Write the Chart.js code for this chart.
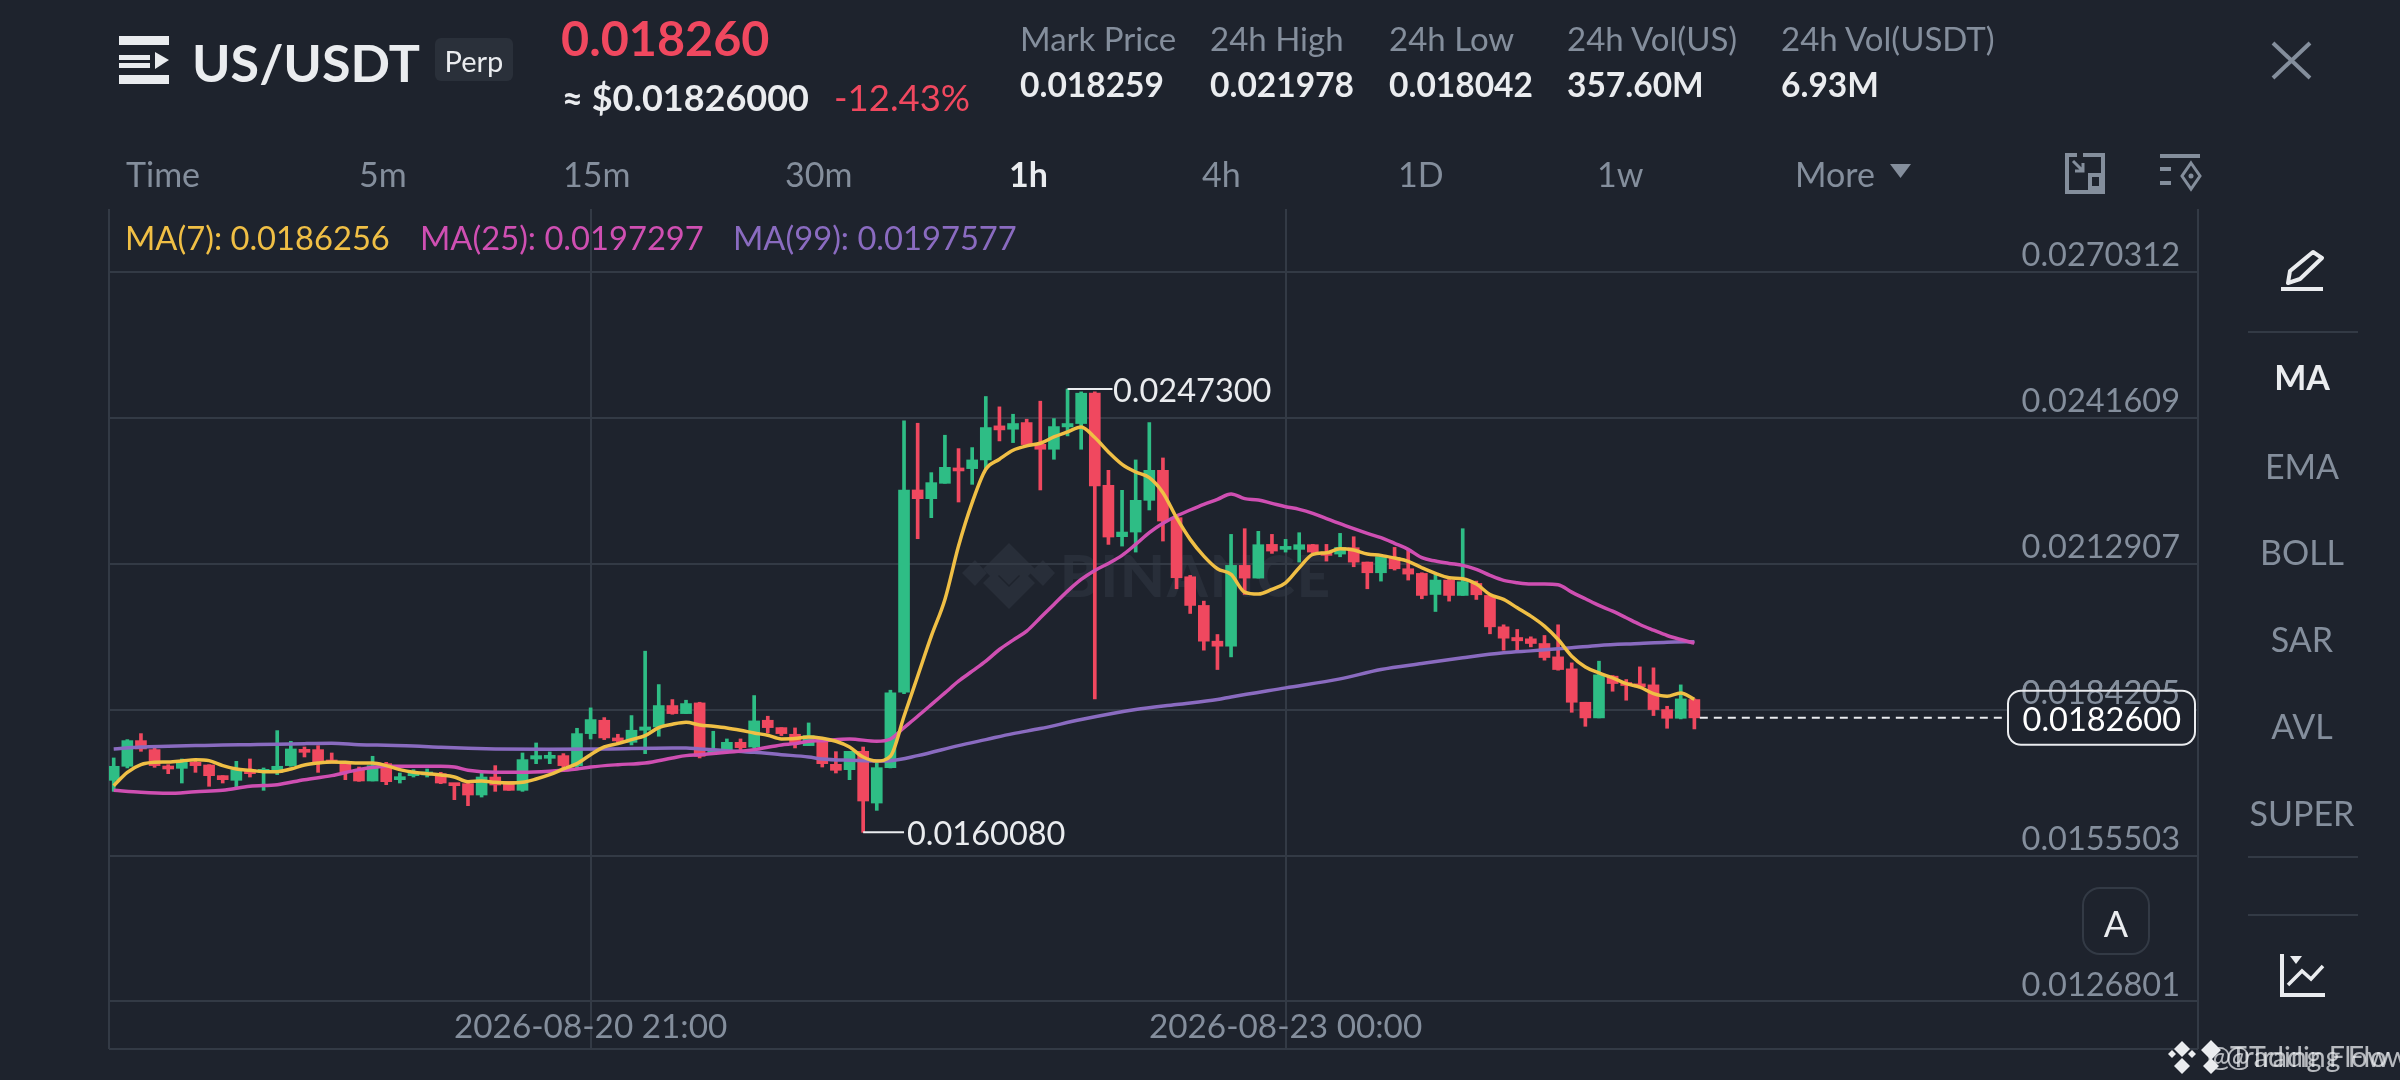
<!DOCTYPE html>
<html>
<head>
<meta charset="utf-8">
<title>US/USDT Perp</title>
<script src="https://cdn.jsdelivr.net/npm/chart.js@4/dist/chart.umd.min.js"></script>
<style>
  html, body { margin: 0; padding: 0; background: #1e232d; }
  #page { position: relative; width: 2400px; height: 1080px; overflow: hidden; background: #1e232d; font-family: Lato, sans-serif; }
  #chart { position: absolute; left: 0; top: 0; }
  .t { position: absolute; white-space: nowrap; transform: translateY(-50%); line-height: 1; }
  .c { transform: translate(-50%, -50%); }
  .label { font-size: 33px; color: #848e9c; }
  .value { font-size: 33.500px; color: #eaecef; font-weight: 700; }
  .tab { font-size: 34px; color: #848e9c; }
  .side { font-size: 34px; color: #848e9c; }
  .ma { font-size: 32.700px; }
  .rule { position: absolute; left: 2248px; width: 110px; height: 2px; background: #333a45; }
  svg { position: absolute; overflow: visible; }
</style>
</head>
<body>
<div id="page">
  <svg style="left:0;top:0" width="2400" height="1080" fill="none">
    <!-- binance mark, sits behind the candles -->
    <g fill="#282e39">
      <path d="M1009 543l26 26-11 11-15-15-15 15-11-11z"/>
      <path d="M1009 605l-26-26 11-11 15 15 15-15 11 11z" transform="translate(0 4)"/>
      <path d="M975 560l12 13-12 13-13-13z"/>
      <path d="M1043 560l12 13-12 13-13-13z"/>
      <path d="M1009 561l12 12-12 12-12-12z"/>
    </g>
  </svg>
  <div class="t" style="left:1060px;top:575px;font-size:58px;font-weight:900;color:#282e39;letter-spacing:2px">BINANCE</div>

  <canvas id="chart" width="2400" height="1080"></canvas>

  <svg style="left:0;top:0" width="2400" height="1080" fill="none">
    <!-- menu -->
    <path d="M119 36h50v9h-50zM119 75h50v9h-50zM119 55h31v5h-31zM119 63h31v5h-31z" fill="#eaecef"/>
    <path d="M155 52l14 8-14 9z" fill="#eaecef"/>
    <!-- close -->
    <path d="M2273 43l37 35M2310 43l-37 35" stroke="#848e9c" stroke-width="4"/>
    <!-- more arrow -->
    <path d="M1890 164h21l-10.500 14z" fill="#848e9c"/>
    <!-- layout icons -->
    <path d="M2083 155h20v37h-36v-37h10" stroke="#848e9c" stroke-width="4"/>
    <path d="M2073 161l10 10M2083 163v8h-8" stroke="#848e9c" stroke-width="3"/>
    <rect x="2090" y="175" width="11" height="13" stroke="#848e9c" stroke-width="4"/>
    <path d="M2160 156h40M2160 169h11M2160 183h11" stroke="#848e9c" stroke-width="4"/>
    <path d="M2191 163l9 13-9 13-9-13z" stroke="#848e9c" stroke-width="3"/>
    <circle cx="2191" cy="176" r="2.500" fill="#848e9c"/>
    <!-- pen -->
    <path d="M2313 252l9 6-22 21-12 4 2-12z" stroke="#eaecef" stroke-width="4" stroke-linejoin="round"/>
    <path d="M2281 289h42" stroke="#eaecef" stroke-width="4"/>
    <!-- indicators chart -->
    <path d="M2282 954v41h43" stroke="#eaecef" stroke-width="4"/>
    <path d="M2288 985l14-14 9 8 12-13" stroke="#eaecef" stroke-width="3.500"/>
    <path d="M2290 956h12l-6 8z" fill="#eaecef"/>
    <!-- footer marks -->
    <g fill="#eaecef">
      <path d="M2182 1041l8 8-8 8-8-8z M2182 1058l8 8-8 8-8-8z M2172 1050l4 4-4 4-4-4z M2192 1050l4 4-4 4-4-4z"/>
      <path d="M2211 1040l10 10-10 10-10-10z M2211 1058l8 8-8 8-8-8z"/>
    </g>
  </svg>

  <div class="t" style="left:192px;top:62px;font-size:52px;font-weight:700;color:#eaecef">US/USDT</div>
  <div style="position:absolute;left:435px;top:38px;width:78px;height:43px;border-radius:6px;background:#2a303a"></div>
  <div class="t c" style="left:474px;top:60px;font-size:29px;color:#eaecef">Perp</div>
  <div class="t" style="left:561px;top:37px;font-size:48.500px;font-weight:700;color:#f0485f">0.018260</div>
  <div class="t" style="left:562px;top:97px;font-size:36px;font-weight:700;color:#eaecef">≈ $0.01826000</div>
  <div class="t" style="left:834px;top:97px;font-size:36.500px;color:#f0485f">-12.43%</div>

  <div class="t label" style="left:1020px;top:38px">Mark Price</div>
  <div class="t value" style="left:1020px;top:85px">0.018259</div>
  <div class="t label" style="left:1210px;top:38px">24h High</div>
  <div class="t value" style="left:1210px;top:85px">0.021978</div>
  <div class="t label" style="left:1389px;top:38px">24h Low</div>
  <div class="t value" style="left:1389px;top:85px">0.018042</div>
  <div class="t label" style="left:1567px;top:38px">24h Vol(US)</div>
  <div class="t value" style="left:1567px;top:85px">357.60M</div>
  <div class="t label" style="left:1781px;top:38px">24h Vol(USDT)</div>
  <div class="t value" style="left:1781px;top:85px">6.93M</div>

  <div class="t tab" style="left:126px;top:174px">Time</div>
  <div class="t tab" style="left:359px;top:174px">5m</div>
  <div class="t tab" style="left:563px;top:174px">15m</div>
  <div class="t tab" style="left:785px;top:174px">30m</div>
  <div class="t tab" style="left:1009px;top:174px;color:#eaecef;font-weight:700">1h</div>
  <div class="t tab" style="left:1202px;top:174px">4h</div>
  <div class="t tab" style="left:1398px;top:174px">1D</div>
  <div class="t tab" style="left:1597px;top:174px">1w</div>
  <div class="t tab" style="left:1795px;top:174px">More</div>

  <div class="t ma" style="left:125px;top:238px;color:#f0bf45">MA(7): 0.0186256</div>
  <div class="t ma" style="left:420px;top:238px;color:#cf4fb2">MA(25): 0.0197297</div>
  <div class="t ma" style="left:733px;top:238px;color:#8a6bc0">MA(99): 0.0197577</div>

  <div class="rule" style="top:331px"></div>
  <div class="t c side" style="left:2302px;top:377px;color:#eaecef;font-weight:700">MA</div>
  <div class="t c side" style="left:2302px;top:466px">EMA</div>
  <div class="t c side" style="left:2302px;top:552px">BOLL</div>
  <div class="t c side" style="left:2302px;top:639px">SAR</div>
  <div class="t c side" style="left:2302px;top:726px">AVL</div>
  <div class="t c side" style="left:2302px;top:813px">SUPER</div>
  <div class="rule" style="top:856px"></div>
  <div class="rule" style="top:914px"></div>

  <div style="position:absolute;left:2082px;top:887px;width:64px;height:64px;border:2px solid #333a45;border-radius:18px"></div>
  <div class="t c" style="left:2116px;top:923px;font-size:36px;color:#eaecef">A</div>

  <div class="t" style="left:2226px;top:1056px;font-size:28.500px;color:#eaecef;opacity:.75">@Trading Flow</div>
  <div class="t" style="left:2207px;top:1056px;font-size:28.500px;color:#eaecef;opacity:.75">@Trading Flow</div>
</div>

<script>
const openPrices = [
  0.017031, 0.017307, 0.017812, 0.017635, 0.017307, 0.017267, 0.017385, 0.017333, 0.017123, 0.017031,
  0.017241, 0.017188, 0.017188, 0.017320, 0.017635, 0.017635, 0.017412, 0.017359, 0.017241, 0.017018,
  0.017359, 0.017044, 0.017123, 0.017136, 0.017162, 0.016965, 0.016965, 0.016742, 0.017096, 0.017011,
  0.016834, 0.017451, 0.017464, 0.017517, 0.017320, 0.017950, 0.018213, 0.017865, 0.017779, 0.018016,
  0.018081, 0.018502, 0.018344, 0.018554, 0.017556, 0.017622, 0.017779, 0.017687, 0.018213, 0.018068,
  0.017937, 0.017714, 0.017806, 0.017346, 0.017241, 0.017602, 0.016584, 0.017280, 0.018764, 0.022744,
  0.022573, 0.022875, 0.023177, 0.023164, 0.023335, 0.024005, 0.023939, 0.024070, 0.023643, 0.023545,
  0.023985, 0.024051, 0.024648, 0.022836, 0.021825, 0.021916, 0.022540, 0.023131, 0.022199, 0.021036,
  0.020472, 0.019769, 0.019670, 0.021260, 0.021010, 0.021673, 0.021575, 0.021575, 0.021667, 0.021522,
  0.021483, 0.021608, 0.021325, 0.021115, 0.021417, 0.021194, 0.021102, 0.020688, 0.020971, 0.020669,
  0.020905, 0.020669, 0.020051, 0.019841, 0.019815, 0.019723, 0.019460, 0.019224, 0.018567, 0.018259,
  0.019080, 0.018948, 0.018915, 0.018909, 0.018423, 0.018252, 0.018620
];
const closePrices = [
  0.017307, 0.017812, 0.017648, 0.017320, 0.017254, 0.017425, 0.017320, 0.017123, 0.017044, 0.017241,
  0.017162, 0.017228, 0.017307, 0.017648, 0.017582, 0.017398, 0.017372, 0.017188, 0.017018, 0.017320,
  0.017004, 0.017096, 0.017188, 0.017188, 0.016978, 0.016926, 0.016742, 0.017096, 0.016939, 0.016834,
  0.017438, 0.017517, 0.017517, 0.017320, 0.017950, 0.018226, 0.017865, 0.017806, 0.018016, 0.018081,
  0.018502, 0.018344, 0.018541, 0.017504, 0.017635, 0.017779, 0.017674, 0.018200, 0.018068, 0.017950,
  0.017753, 0.017911, 0.017359, 0.017228, 0.017602, 0.016624, 0.017280, 0.018751, 0.022744, 0.022573,
  0.022888, 0.023190, 0.023118, 0.023335, 0.023972, 0.023926, 0.024051, 0.023637, 0.023545, 0.023991,
  0.024051, 0.024648, 0.022823, 0.021818, 0.021916, 0.022540, 0.023131, 0.022133, 0.021017, 0.020472,
  0.019769, 0.019670, 0.021260, 0.021010, 0.021667, 0.021542, 0.021614, 0.021667, 0.021522, 0.021457,
  0.021614, 0.021325, 0.021115, 0.021430, 0.021194, 0.021089, 0.020669, 0.020971, 0.020669, 0.020938,
  0.020682, 0.020051, 0.019828, 0.019776, 0.019723, 0.019447, 0.019211, 0.018567, 0.018259, 0.019106,
  0.018935, 0.018896, 0.018870, 0.018423, 0.018252, 0.018633, 0.018260
];
const highPrices = [
  0.017471, 0.017832, 0.017950, 0.017714, 0.017339, 0.017451, 0.017451, 0.017339, 0.017123, 0.017405,
  0.017451, 0.017274, 0.018009, 0.017799, 0.017687, 0.017714, 0.017569, 0.017385, 0.017293, 0.017504,
  0.017385, 0.017175, 0.017241, 0.017254, 0.017188, 0.016965, 0.016978, 0.017188, 0.017320, 0.017011,
  0.017569, 0.017766, 0.017589, 0.017556, 0.018055, 0.018456, 0.018265, 0.017937, 0.018305, 0.019572,
  0.018915, 0.018620, 0.018607, 0.018567, 0.017996, 0.017845, 0.017845, 0.018699, 0.018292, 0.018068,
  0.018062, 0.018160, 0.017832, 0.017595, 0.017602, 0.017687, 0.017372, 0.018804, 0.024103, 0.024057,
  0.023085, 0.023821, 0.023558, 0.023578, 0.024583, 0.024379, 0.024234, 0.024136, 0.024491, 0.024149,
  0.024730, 0.024674, 0.024674, 0.023131, 0.022737, 0.023335, 0.024070, 0.023374, 0.022232, 0.021063,
  0.020557, 0.019900, 0.021870, 0.021982, 0.021930, 0.021870, 0.021772, 0.021903, 0.021673, 0.021673,
  0.021890, 0.021824, 0.021325, 0.021476, 0.021614, 0.021575, 0.021115, 0.021082, 0.020984, 0.021982,
  0.020951, 0.020688, 0.020091, 0.019999, 0.019854, 0.019881, 0.020091, 0.019342, 0.018567, 0.019375,
  0.019093, 0.019014, 0.019263, 0.019244, 0.018488, 0.018909, 0.018633
];
const lowPrices = [
  0.016814, 0.017274, 0.017602, 0.017287, 0.017162, 0.016978, 0.017188, 0.016913, 0.016978, 0.016893,
  0.017096, 0.016834, 0.017142, 0.017307, 0.017490, 0.017188, 0.017372, 0.017044, 0.017011, 0.017018,
  0.016945, 0.016978, 0.017096, 0.017096, 0.016965, 0.016650, 0.016532, 0.016702, 0.016814, 0.016834,
  0.016814, 0.017359, 0.017359, 0.017274, 0.017274, 0.017845, 0.017832, 0.017766, 0.017727, 0.017556,
  0.017898, 0.018331, 0.018344, 0.017471, 0.017556, 0.017602, 0.017635, 0.017668, 0.017963, 0.017911,
  0.017668, 0.017714, 0.017293, 0.017175, 0.017044, 0.016008, 0.016440, 0.017274, 0.018738, 0.021785,
  0.022199, 0.022875, 0.022507, 0.022855, 0.023151, 0.023709, 0.023676, 0.023643, 0.022744, 0.023348,
  0.023808, 0.023545, 0.018633, 0.021673, 0.021640, 0.021522, 0.022350, 0.021739, 0.020800, 0.020314,
  0.019592, 0.019211, 0.019460, 0.020688, 0.021010, 0.021496, 0.021522, 0.021325, 0.021496, 0.021345,
  0.021430, 0.021233, 0.020800, 0.020951, 0.021168, 0.020971, 0.020603, 0.020353, 0.020557, 0.020669,
  0.020590, 0.019914, 0.019592, 0.019592, 0.019657, 0.019395, 0.019198, 0.018370, 0.018094, 0.018259,
  0.018784, 0.018607, 0.018850, 0.018305, 0.018055, 0.018239, 0.018042
];

const ma7Values = [
  0.016926, 0.017188, 0.017339, 0.017385, 0.017392, 0.017412, 0.017438, 0.017418, 0.017320, 0.017254,
  0.017228, 0.017201, 0.017201, 0.017254, 0.017333, 0.017372, 0.017392, 0.017385, 0.017372, 0.017372,
  0.017320, 0.017241, 0.017188, 0.017162, 0.017136, 0.017096, 0.017004, 0.017018, 0.016991, 0.016978,
  0.016991, 0.017057, 0.017142, 0.017254, 0.017359, 0.017536, 0.017687, 0.017753, 0.017832, 0.017911,
  0.018068, 0.018134, 0.018173, 0.018121, 0.018095, 0.018062, 0.018016, 0.017963, 0.017917, 0.017845,
  0.017852, 0.017884, 0.017858, 0.017799, 0.017687, 0.017490, 0.017412, 0.017504, 0.018291, 0.019079,
  0.019867, 0.020590, 0.021640, 0.022494, 0.023151, 0.023348, 0.023525, 0.023611, 0.023663, 0.023788,
  0.023886, 0.023985, 0.023775, 0.023492, 0.023249, 0.023098, 0.022987, 0.022691, 0.022199, 0.021772,
  0.021443, 0.021194, 0.021082, 0.020734, 0.020695, 0.020787, 0.020918, 0.021214, 0.021476, 0.021509,
  0.021588, 0.021562, 0.021483, 0.021457, 0.021404, 0.021339, 0.021214, 0.021102, 0.021017, 0.020997,
  0.020892, 0.020688, 0.020590, 0.020426, 0.020262, 0.020065, 0.019802, 0.019474, 0.019263, 0.019145,
  0.019047, 0.018935, 0.018863, 0.018738, 0.018686, 0.018751, 0.018626
];

// the slower averages were read at their visible bends only
const ma25Index = [
  0, 2, 4, 6, 8, 10, 12, 14, 16, 18, 20, 22, 24, 25, 26, 28, 30, 32, 33, 34, 35, 37, 39, 41, 42, 43, 45, 47, 49, 50,
  51, 52, 54, 56, 57, 58, 59, 60, 61, 62, 63, 64, 65, 66, 67, 68, 69, 70, 71, 72, 73, 74, 75, 76, 77, 78, 79, 80, 81,
  82, 83, 84, 85, 86, 87, 88, 89, 90, 91, 92, 93, 94, 95, 96, 97, 98, 99, 100, 101, 102, 103, 104, 105, 106, 107,
  108, 109, 110, 111, 112, 113, 114, 115, 116
];
const ma25Values = [
  0.016834, 0.016794, 0.016775, 0.016807, 0.016834, 0.016913, 0.016945, 0.017044, 0.017123, 0.017241, 0.017307, 0.017307, 0.017307, 0.017293, 0.017228, 0.017188, 0.017188, 0.017208, 0.017228, 0.017254, 0.017293, 0.017339, 0.017372, 0.017471, 0.017517, 0.017536, 0.017582, 0.017635, 0.017727, 0.017753,
  0.017799, 0.017812, 0.017845, 0.017799, 0.017845, 0.018068, 0.018291, 0.018521, 0.018751, 0.018981, 0.019178, 0.019375, 0.019605, 0.019789, 0.019966, 0.020229, 0.020492, 0.020754, 0.020984, 0.021161, 0.021299, 0.021457, 0.021673, 0.021903, 0.022087, 0.022232, 0.022350, 0.022461, 0.022560,
  0.022665, 0.022573, 0.022547, 0.022481, 0.022415, 0.022363, 0.022284, 0.022179, 0.022081, 0.021982, 0.021890, 0.021805, 0.021693, 0.021575, 0.021411, 0.021345, 0.021299, 0.021260, 0.021181, 0.021063, 0.020964, 0.020918, 0.020892, 0.020892, 0.020879, 0.020734,
  0.020603, 0.020472, 0.020360, 0.020229, 0.020097, 0.019986, 0.019881, 0.019802, 0.019730
];
const ma99Index = [
  0, 2, 4, 6, 8, 10, 12, 14, 16, 18, 20, 22, 24, 26, 28, 32, 36, 41, 42, 43, 45, 47, 49, 51, 52, 54, 56, 57,
  59, 62, 64, 66, 68, 71, 75, 78, 81, 82, 86, 90, 93, 96, 99, 102, 104, 107, 109, 112, 114, 116
];
const ma99Values = [
  0.017648, 0.017687, 0.017701, 0.017714, 0.017727, 0.017733, 0.017740, 0.017753, 0.017760, 0.017733, 0.017720, 0.017707, 0.017681, 0.017661, 0.017648, 0.017641, 0.017648, 0.017668, 0.017668, 0.017648, 0.017615, 0.017582, 0.017536, 0.017490, 0.017451, 0.017425, 0.017412, 0.017418,
  0.017517, 0.017714, 0.017832, 0.017950, 0.018049, 0.018226, 0.018423, 0.018522, 0.018620, 0.018672, 0.018850, 0.019027, 0.019211, 0.019329, 0.019441, 0.019539, 0.019578, 0.019638, 0.019684, 0.019723, 0.019749, 0.019758
];

const priceTicks = [0.0270312, 0.0241609, 0.0212907, 0.0184205, 0.0155503, 0.0126801];
const timeTickIndex = [35, 86];
const timeTickLabels = ["2026-08-20 21:00", "2026-08-23 00:00"];

const peakIndex = 70;
const peakPrice = 0.02473;
const troughIndex = 55;
const troughPrice = 0.016008;
const lastIndex = 116;
const lastPrice = 0.01826;

const GREEN = "#2ebd85";
const RED = "#f0485f";
const GRID = "#333a45";
const TICK_TEXT = "#848e9c";
const WHITE = "#eaecef";
const BG = "#1e232d";

const xMin = -0.345;
const xMax = 152.96;
const yMin = 0.0117445;
const yMax = 0.0282723;

const candleColors = openPrices.map((o, i) => (closePrices[i] >= o ? GREEN : RED));
const toPoints = (idx, vals) => idx.map((x, i) => ({ x: x, y: vals[i] }));

const lineStyle = (color, width) => ({
  type: "line",
  borderColor: color,
  borderWidth: width,
  pointRadius: 0,
  fill: false,
  cubicInterpolationMode: "monotone",
});

// price flags and the last price tag
const annotations = {
  id: "annotations",
  afterDraw(chart) {
    const { ctx, scales } = chart;
    const y = scales.y;
    ctx.save();
    ctx.font = "32.5px Lato, sans-serif";
    ctx.textBaseline = "middle";
    ctx.fillStyle = WHITE;
    ctx.textAlign = "left";
    ctx.fillText(peakPrice.toFixed(7), 1113, y.getPixelForValue(peakPrice) + 2);
    ctx.fillText(troughPrice.toFixed(7), 907, y.getPixelForValue(troughPrice) + 2);

    const tagY = y.getPixelForValue(lastPrice);
    ctx.beginPath();
    ctx.roundRect(2008, tagY - 27, 187, 54, 13);
    ctx.fillStyle = BG;
    ctx.fill();
    // the tick label behind the tag still shows through
    ctx.textAlign = "right";
    ctx.textBaseline = "bottom";
    ctx.fillStyle = TICK_TEXT;
    ctx.fillText(priceTicks[3].toFixed(7), 2180, y.getPixelForValue(priceTicks[3]));
    ctx.strokeStyle = WHITE;
    ctx.lineWidth = 2;
    ctx.stroke();
    ctx.textBaseline = "middle";
    ctx.fillStyle = "#ffffff";
    ctx.fillText(lastPrice.toFixed(7), 2181, tagY + 3);
    ctx.restore();
  },
};

new Chart(document.getElementById("chart"), {
  type: "bar",
  plugins: [annotations],
  data: {
    datasets: [
      Object.assign(lineStyle("#f0bf45", 3.5), {
        data: ma7Values.map((v, i) => ({ x: i, y: v })),
        order: 1,
      }),
      Object.assign(lineStyle("#cf4fb2", 3.5), {
        data: toPoints(ma25Index, ma25Values),
        order: 2,
      }),
      Object.assign(lineStyle("#8a6bc0", 3.5), {
        data: toPoints(ma99Index, ma99Values),
        order: 3,
      }),
      Object.assign(lineStyle(WHITE, 2), {
        data: [{ x: peakIndex, y: peakPrice }, { x: peakIndex + 3.3, y: peakPrice }],
        cubicInterpolationMode: "default",
        order: 4,
      }),
      Object.assign(lineStyle(WHITE, 2), {
        data: [{ x: troughIndex, y: troughPrice }, { x: troughIndex + 3, y: troughPrice }],
        cubicInterpolationMode: "default",
        order: 4,
      }),
      Object.assign(lineStyle(WHITE, 2), {
        data: [{ x: lastIndex + 0.4, y: lastPrice }, { x: 138.9, y: lastPrice }],
        cubicInterpolationMode: "default",
        borderDash: [8, 6],
        order: 4,
      }),
      {
        data: openPrices.map((o, i) => ({ x: i, y: [o, closePrices[i]] })),
        backgroundColor: candleColors,
        barThickness: 11,
        minBarLength: 3,
        grouped: false,
        order: 5,
      },
      {
        data: lowPrices.map((l, i) => ({ x: i, y: [l, highPrices[i]] })),
        backgroundColor: candleColors,
        barThickness: 3,
        grouped: false,
        order: 6,
      },
    ],
  },
  options: {
    responsive: false,
    animation: false,
    devicePixelRatio: 1,
    events: [],
    layout: { padding: { left: 109, right: 202, top: 209, bottom: 0 } },
    plugins: { legend: { display: false }, tooltip: { enabled: false } },
    scales: {
      x: {
        type: "linear",
        min: xMin,
        max: xMax,
        offset: false,
        border: { display: false },
        grid: { color: GRID, lineWidth: 2, offset: false, drawTicks: false },
        afterBuildTicks: (scale) => {
          scale.ticks = [xMin, ...timeTickIndex, xMax].map((v) => ({ value: v }));
        },
        afterFit: (scale) => {
          scale.height = 31;
        },
        ticks: {
          // mirror keeps the labels from being clipped to the axis box
          mirror: true,
          autoSkip: false,
          maxRotation: 0,
          padding: 2,
          color: TICK_TEXT,
          font: { family: "Lato, sans-serif", size: 33.3 },
          callback: (value) => {
            const at = timeTickIndex.indexOf(value);
            return at >= 0 ? timeTickLabels[at] : "";
          },
        },
      },
      y: {
        position: "right",
        min: yMin,
        max: yMax,
        border: { display: false },
        grid: { color: GRID, lineWidth: 2, drawTicks: false },
        afterBuildTicks: (scale) => {
          scale.ticks = [yMin, ...priceTicks].map((v) => ({ value: v }));
        },
        afterFit: (scale) => {
          scale.width = 0;
        },
        ticks: {
          mirror: true,
          align: "end",
          padding: -18,
          color: TICK_TEXT,
          font: { family: "Lato, sans-serif", size: 32.5 },
          callback: (value) => (priceTicks.includes(value) ? value.toFixed(7) : ""),
        },
      },
    },
  },
});
</script>
</body>
</html>
